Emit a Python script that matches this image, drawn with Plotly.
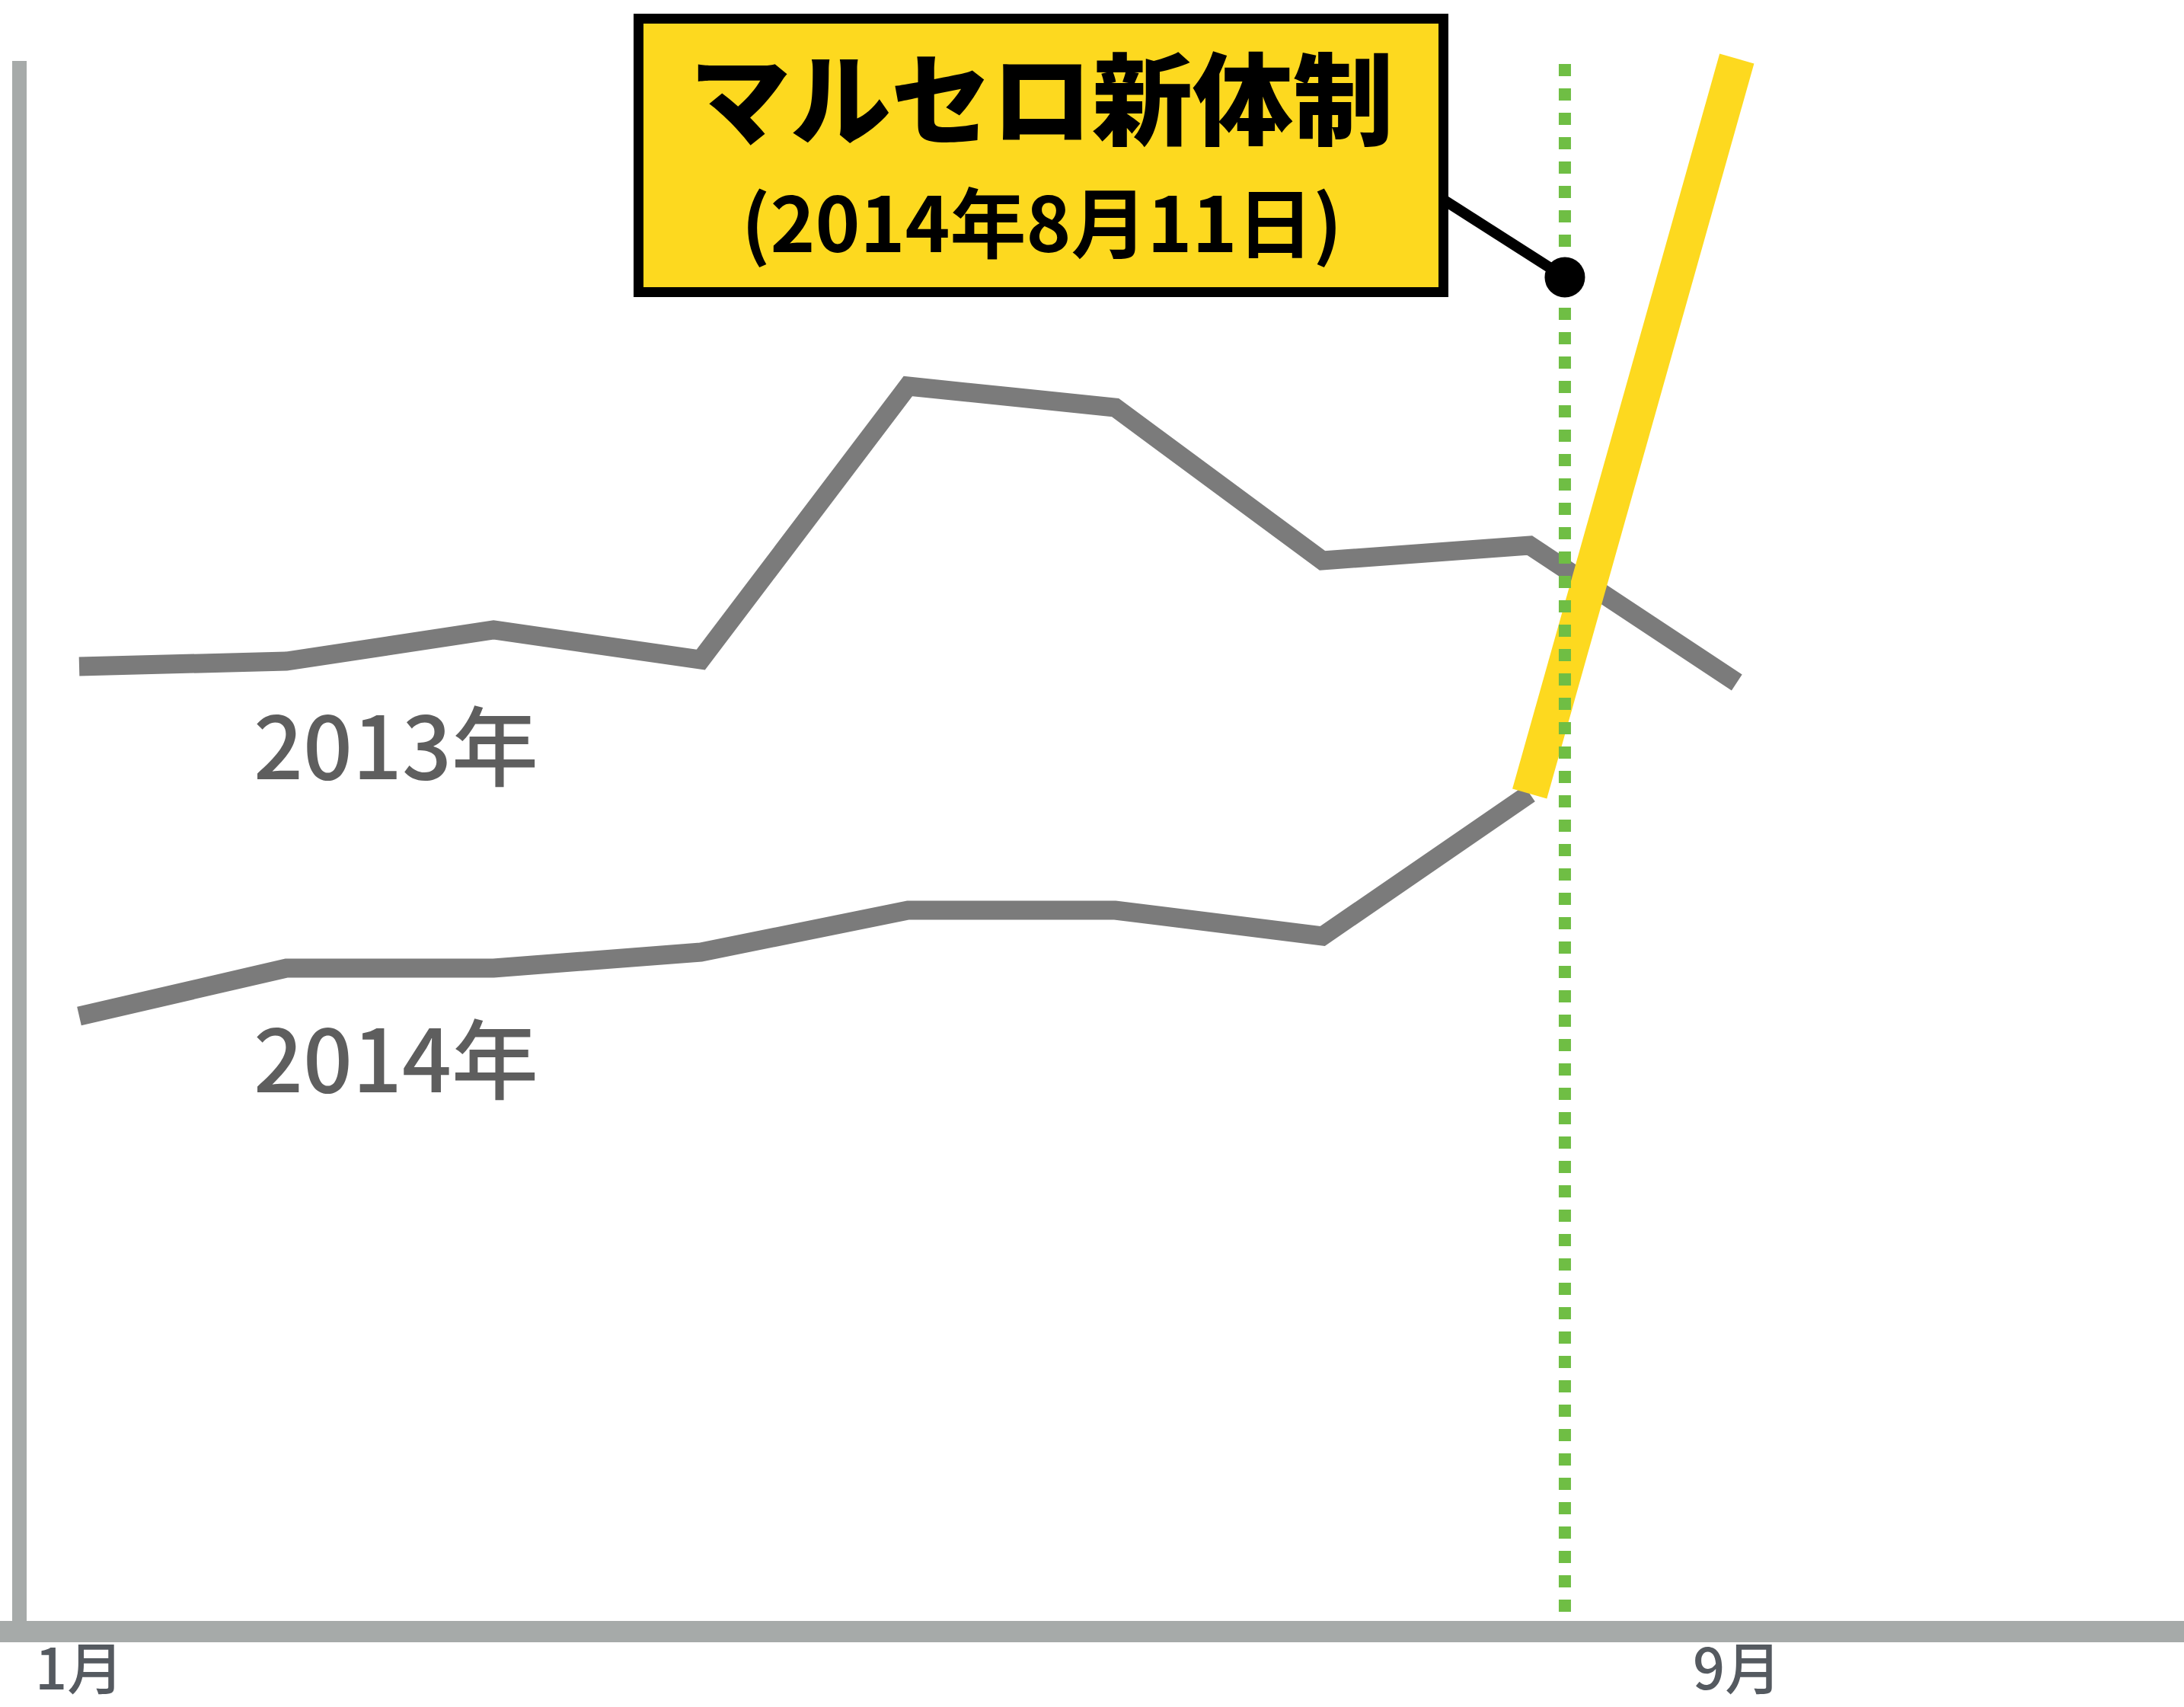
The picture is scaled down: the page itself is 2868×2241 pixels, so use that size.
import plotly.graph_objects as go

# ---------------- data ----------------
months_2013 = [1, 2, 3, 4, 5, 6, 7, 8, 9]
values_2013 = [126.7, 127.4, 131.5, 127.6, 163.5, 160.7, 140.6, 142.6, 124.6]

months_2014 = [1, 2, 3, 4, 5, 6, 7, 8]
values_2014 = [80.8, 87.1, 87.1, 89.2, 94.7, 94.7, 91.3, 110.0]

months_new = [8, 9]                 # after the new regime
values_new = [110.0, 206.5]

event_x = 8.17                      # 2014-08-11
event_y = 177.8

tick_vals = [1, 9]
tick_text = ["1月", "9月"]

series_labels = ["2013年", "2014年"]
label_x = [2.53, 2.53]
label_y = [116.9, 75.8]

title_line1 = "マルセロ新体制"
title_line2 = "(2014年8月11日)"

# ---------------- layout geometry ----------------
W, H = 2868, 2241
PX_PER_MONTH = 272.1
X_FIRST_PX = 104          # pixel of month 1
Y_ZERO_PX = 2142          # pixel of value 0
PX_PER_UNIT = 10.0
PLOT_BOTTOM_PX = 2128
MB = H - PLOT_BOTTOM_PX

x0 = 1 - X_FIRST_PX / PX_PER_MONTH
x_range = [x0, x0 + W / PX_PER_MONTH]
y_range = [(Y_ZERO_PX - PLOT_BOTTOM_PX) / PX_PER_UNIT, Y_ZERO_PX / PX_PER_UNIT]


def px_to_x(px):
    return x0 + px / PX_PER_MONTH


def px_to_y(py):
    return (Y_ZERO_PX - py) / PX_PER_UNIT


def paper_x(px):
    return px / W


def paper_y(py):
    return (PLOT_BOTTOM_PX - py) / PLOT_BOTTOM_PX


GRAY = "#7B7B7B"
YELLOW = "#FDD91F"
GREEN = "#6FBE44"
AXIS = "#A6AAA9"
FONT = "Noto Sans CJK JP"

# box geometry
BOX_L, BOX_R, BOX_T, BOX_B, BOX_BW = 832, 1902, 18, 390, 13

fig = go.Figure()

fig.add_trace(go.Scatter(x=months_2013, y=values_2013, mode="lines",
                         line=dict(color=GRAY, width=25), hoverinfo="skip"))
fig.add_trace(go.Scatter(x=months_2014, y=values_2014, mode="lines",
                         line=dict(color=GRAY, width=25), hoverinfo="skip"))
fig.add_trace(go.Scatter(x=months_new, y=values_new, mode="lines",
                         line=dict(color=YELLOW, width=47), hoverinfo="skip"))
# event vertical dotted line
fig.add_trace(go.Scatter(x=[event_x, event_x], y=[px_to_y(84), 0], mode="lines",
                         line=dict(color=GREEN, width=16, dash="dot"), hoverinfo="skip",
                         cliponaxis=False))
# connector from box to event point
fig.add_trace(go.Scatter(x=[px_to_x(BOX_R - BOX_BW), event_x], y=[px_to_y(258), event_y],
                         mode="lines", line=dict(color="black", width=14), hoverinfo="skip"))
fig.add_trace(go.Scatter(x=[event_x], y=[event_y], mode="markers",
                         marker=dict(color="black", size=53, line=dict(width=0)),
                         hoverinfo="skip"))

shapes = [
    # y axis line
    dict(type="line", xref="paper", yref="paper",
         x0=paper_x(25.5), x1=paper_x(25.5), y0=paper_y(80), y1=paper_y(2140),
         line=dict(color=AXIS, width=19), layer="below"),
    # annotation box
    dict(type="rect", xref="paper", yref="paper",
         x0=paper_x(BOX_L + BOX_BW / 2), x1=paper_x(BOX_R - BOX_BW / 2),
         y0=paper_y(BOX_B - BOX_BW / 2), y1=paper_y(BOX_T + BOX_BW / 2),
         fillcolor=YELLOW, line=dict(color="black", width=BOX_BW), layer="above"),
]

annotations = []
for t, lx, ly in zip(series_labels, label_x, label_y):
    annotations.append(dict(x=lx, y=ly, xref="x", yref="y", text=t, showarrow=False,
                            xanchor="center", yanchor="middle",
                            font=dict(family=FONT, size=114, color="#5E5E5E", weight=500)))

# month tick labels under the axis bar
for tv, tt in zip(tick_vals, tick_text):
    annotations.append(dict(x=tv, y=paper_y(2240), xref="x", yref="paper", text=tt,
                            showarrow=False, xanchor="center", yanchor="bottom",
                            borderpad=0,
                            font=dict(family=FONT, size=74, color="#555A60", weight=500)))

title_text = ("<span style='font-size:132px;font-weight:900'>" + title_line1 + "</span><br>"
              "<span style='font-size:100px;font-weight:700'>" + title_line2 + "</span>")
annotations.append(dict(x=paper_x(1368), y=paper_y(193), xref="paper", yref="paper",
                        text=title_text, showarrow=False, align="center",
                        xanchor="center", yanchor="middle",
                        font=dict(family=FONT, size=116, color="black")))

fig.update_layout(
    width=W, height=H,
    autosize=False,
    margin=dict(l=0, r=0, t=0, b=MB, pad=0, autoexpand=False),
    paper_bgcolor="white", plot_bgcolor="white",
    showlegend=False,
    xaxis=dict(range=x_range, showgrid=False, zeroline=False, automargin=False,
               showline=True, linewidth=28, linecolor=AXIS,
               tickmode="array", tickvals=tick_vals, ticktext=tick_text,
               showticklabels=False, ticks="", fixedrange=True),
    yaxis=dict(range=y_range, visible=False, showgrid=False, zeroline=False,
               automargin=False, fixedrange=True),
    shapes=shapes,
    annotations=annotations,
)

fig.write_html("out.html", config={"displayModeBar": False},
               post_script="document.body.style.margin='0';document.body.style.overflow='hidden';")
